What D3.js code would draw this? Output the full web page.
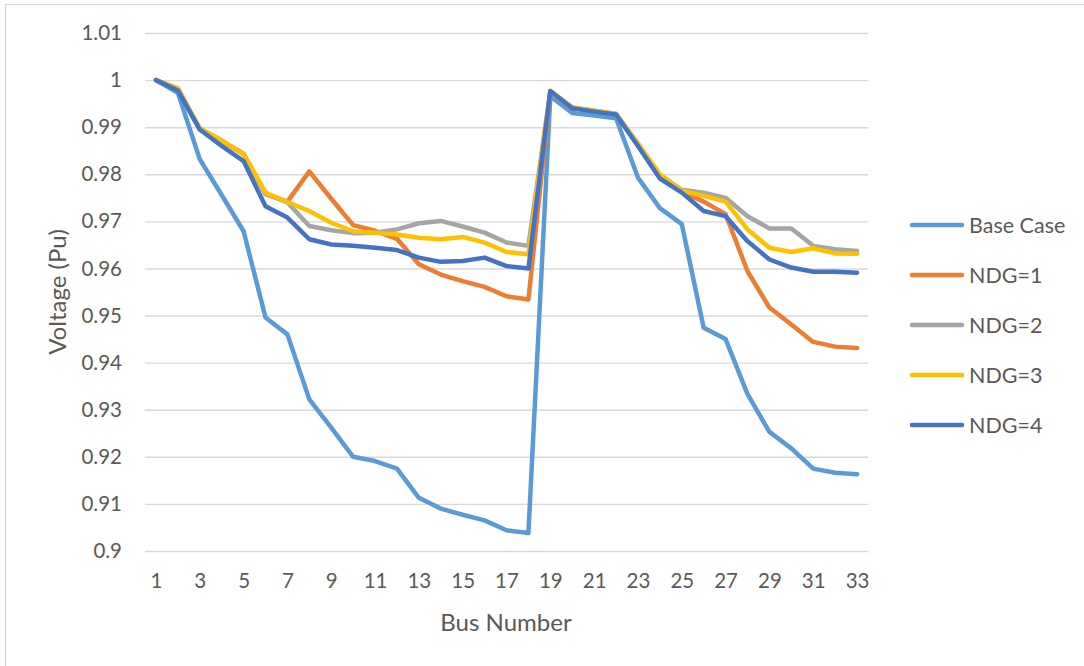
<!DOCTYPE html>
<html>
<head>
<meta charset="utf-8">
<script src="https://cdn.jsdelivr.net/npm/d3@7"></script>
<style>
  html, body { margin: 0; padding: 0; background: #fff; }
  svg { display: block; font-family: Lato, "Open Sans", sans-serif; }
</style>
</head>
<body>
<svg id="chart" width="1084" height="666"></svg>
<script>
// Bus voltage profile of the 33-bus feeder for different numbers of DGs
const buses = d3.range(1, 34);

const baseCase = [1.0000, 0.9973, 0.9832, 0.9756, 0.9679, 0.9496, 0.9460, 0.9322, 0.9262, 0.9200,
  0.9191, 0.9175, 0.9113, 0.9090, 0.9077, 0.9065, 0.9044, 0.9038, 0.9966, 0.9930,
  0.9925, 0.9919, 0.9793, 0.9728, 0.9694, 0.9474, 0.9450, 0.9333, 0.9253, 0.9218,
  0.9175, 0.9166, 0.9163];
const ndg1 = [1.0000, 0.9982, 0.9895, 0.9870, 0.9843, 0.9758, 0.9742, 0.9806, 0.9748, 0.9692,
  0.9680, 0.9663, 0.9609, 0.9587, 0.9573, 0.9561, 0.9541, 0.9534, 0.9975, 0.9940,
  0.9935, 0.9928, 0.9862, 0.9795, 0.9763, 0.9742, 0.9715, 0.9594, 0.9517, 0.9481,
  0.9444, 0.9434, 0.9431];
const ndg2 = [1.0000, 0.9982, 0.9897, 0.9871, 0.9843, 0.9759, 0.9740, 0.9690, 0.9681, 0.9675,
  0.9676, 0.9683, 0.9696, 0.9701, 0.9689, 0.9676, 0.9655, 0.9648, 0.9975, 0.9942,
  0.9935, 0.9928, 0.9865, 0.9798, 0.9767, 0.9761, 0.9750, 0.9711, 0.9685, 0.9685,
  0.9648, 0.9641, 0.9637];
const ndg3 = [1.0000, 0.9982, 0.9898, 0.9872, 0.9843, 0.9761, 0.9741, 0.9722, 0.9697, 0.9679,
  0.9676, 0.9672, 0.9665, 0.9662, 0.9667, 0.9655, 0.9635, 0.9630, 0.9977, 0.9942,
  0.9935, 0.9928, 0.9865, 0.9800, 0.9765, 0.9754, 0.9742, 0.9683, 0.9644, 0.9635,
  0.9643, 0.9632, 0.9631];
const ndg4 = [1.0000, 0.9978, 0.9895, 0.9860, 0.9828, 0.9732, 0.9708, 0.9662, 0.9651, 0.9648,
  0.9644, 0.9639, 0.9623, 0.9614, 0.9616, 0.9623, 0.9605, 0.9600, 0.9977, 0.9940,
  0.9933, 0.9927, 0.9860, 0.9791, 0.9761, 0.9722, 0.9711, 0.9658, 0.9619, 0.9602,
  0.9593, 0.9593, 0.9591];

const seriesNames = ["Base Case", "NDG=1", "NDG=2", "NDG=3", "NDG=4"];
const seriesColors = ["#5B9BD5", "#ED7D31", "#A5A5A5", "#FFC000", "#4472C4"];
const yTicks = [0.9, 0.91, 0.92, 0.93, 0.94, 0.95, 0.96, 0.97, 0.98, 0.99, 1, 1.01];
const xTickLabels = buses.filter(b => b % 2 === 1);

const series = [baseCase, ndg1, ndg2, ndg3, ndg4].map((vals, i) => ({
  name: seriesNames[i], color: seriesColors[i],
  values: vals.map((v, j) => ({ bus: buses[j], v }))
}));

const svg = d3.select("#chart");
const textColor = "#595959";
const tickFont = "20.5px";

// Chart frame
svg.append("rect")
  .attr("x", 5.5).attr("y", 4.5).attr("width", 1100).attr("height", 700)
  .attr("fill", "none").attr("stroke", "#d9d9d9").attr("stroke-width", 1.3);

const plot = { left: 145, right: 868, top: 33, bottom: 551 };

const x = d3.scalePoint().domain(buses).range([plot.left, plot.right]).padding(0.5);
const y = d3.scaleLinear().domain([0.9, 1.01]).range([plot.bottom, plot.top]);

// Horizontal gridlines + y tick labels
const yAxis = d3.axisLeft(y).tickValues(yTicks).tickSize(-(plot.right - plot.left))
  .tickPadding(23).tickFormat(d => d3.format("")(+d.toFixed(2)));
const gy = svg.append("g").attr("transform", `translate(${plot.left},0)`).call(yAxis);
gy.select(".domain").remove();
gy.selectAll(".tick line").attr("stroke", "#d9d9d9").attr("stroke-width", 1.4);
gy.selectAll(".tick text").attr("fill", textColor).style("font-size", tickFont)
  .style("font-family", "Lato, 'Open Sans', sans-serif");

// X tick labels (odd buses)
const xAxis = d3.axisBottom(x).tickValues(xTickLabels).tickSize(0).tickPadding(22);
const gx = svg.append("g").attr("transform", `translate(0,${plot.bottom})`).call(xAxis);
gx.select(".domain").remove();
gx.selectAll(".tick text").attr("fill", textColor).style("font-size", tickFont)
  .style("font-family", "Lato, 'Open Sans', sans-serif");

// Axis titles
svg.append("text")
  .attr("transform", `translate(66,292) rotate(-90)`)
  .attr("text-anchor", "middle").attr("fill", textColor)
  .style("font-size", "24px").text("Voltage (Pu)");
svg.append("text")
  .attr("x", 506).attr("y", 631)
  .attr("text-anchor", "middle").attr("fill", textColor)
  .style("font-size", "24px").text("Bus Number");

// Series lines
const line = d3.line().x(d => x(d.bus)).y(d => y(d.v));
svg.append("g").selectAll("path").data(series).join("path")
  .attr("d", d => line(d.values))
  .attr("fill", "none")
  .attr("stroke", d => d.color)
  .attr("stroke-width", 4.5)
  .attr("stroke-linejoin", "round")
  .attr("stroke-linecap", "round");

// Legend
const legend = svg.append("g").attr("transform", "translate(910,225)");
const items = legend.selectAll("g").data(series).join("g")
  .attr("transform", (d, i) => `translate(0,${i * 50})`);
items.append("line")
  .attr("x1", 2).attr("x2", 52).attr("y1", 0).attr("y2", 0)
  .attr("stroke", d => d.color).attr("stroke-width", 4.5).attr("stroke-linecap", "round");
items.append("text")
  .attr("x", 59).attr("y", 0).attr("dy", "0.35em")
  .attr("fill", textColor).style("font-size", "21.5px")
  .text(d => d.name);
</script>
</body>
</html>
